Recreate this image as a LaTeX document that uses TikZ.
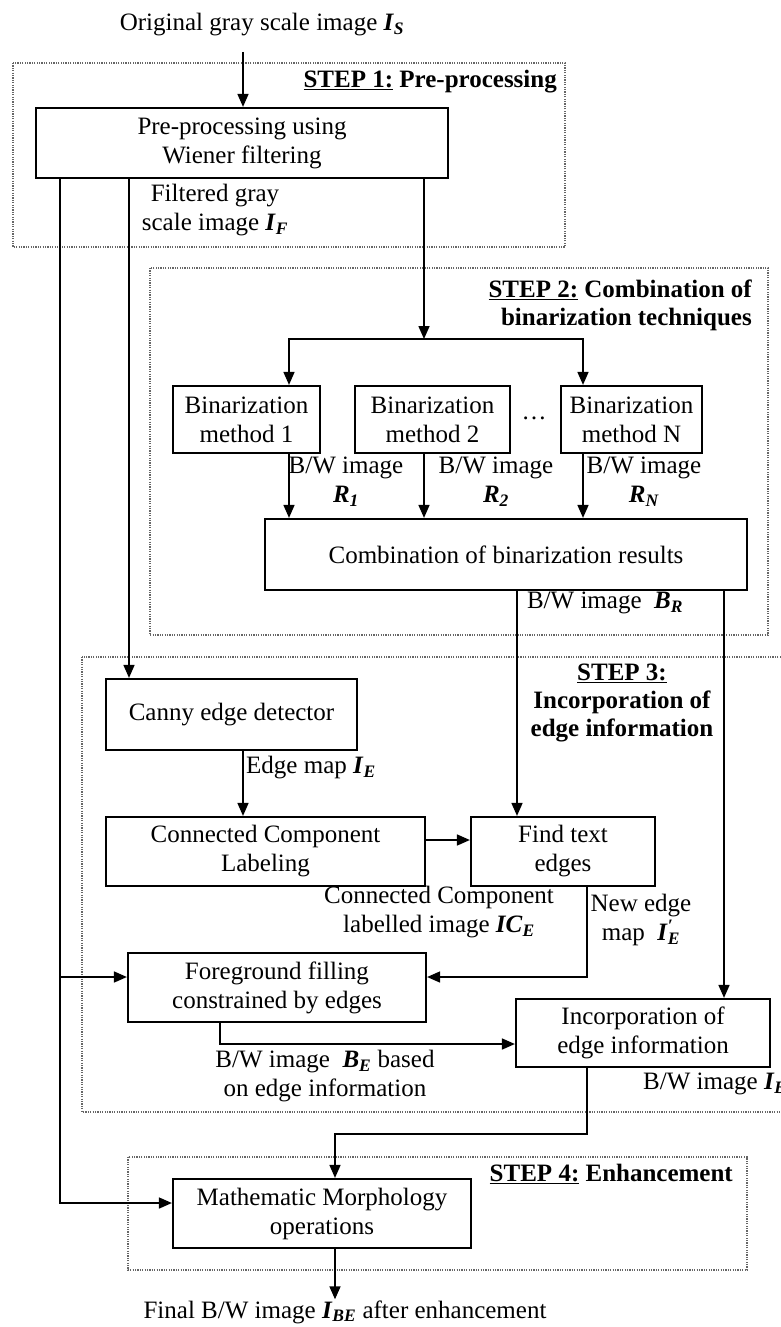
\documentclass[tikz,border=0pt]{standalone}
\usepackage{fontspec}
\setmainfont{Liberation Serif}
\usetikzlibrary{arrows.meta}
\newcommand{\vv}[2]{\textbf{\textit{#1}\textsubscript{\textit{#2}}}}
\begin{document}
\begin{tikzpicture}[x=1pt,y=-1pt,
  every node/.style={font=\fontsize{25}{29}\selectfont, inner sep=1pt},
  blk/.style={draw, line width=2.2pt, align=center, inner sep=0pt},
  arr/.style={line width=1.6pt, -{Triangle[length=13pt,width=11pt]}},
  ln/.style={line width=1.6pt},
  stepframe/.style={draw=black!60, line width=1.3pt, dash pattern=on 1.2pt off 1.2pt},
  steplbl/.style={font=\fontsize{25}{28}\selectfont\bfseries, align=right}]
\useasboundingbox (0,0) rectangle (781,1327);

% step frames
\draw[stepframe] (13,63) rectangle (565,247);
\draw[stepframe] (150,268) rectangle (768,635);
\draw[stepframe] (82,657) rectangle (820,1112);
\draw[stepframe] (128,1157) rectangle (747,1270);

% labels of steps
\node[steplbl, anchor=east] (s1) at (558,82) {\underline{STEP 1:} Pre-processing};
\node[steplbl, anchor=east] (s2) at (753,305) {\underline{STEP 2:} Combination of\\binarization techniques};
\node[steplbl, align=center] (s3) at (622,703) {\underline{STEP 3:}\\Incorporation of\\edge information};
\node[steplbl, anchor=east] (s4) at (734,1174) {\underline{STEP 4:} Enhancement};

% boxes
\node[blk, minimum width=412, minimum height=70] (pre) at (242,143) {Pre-processing using\\Wiener filtering};
\node[blk, minimum width=147, minimum height=67] (bin1) at (246.5,419.5) {Binarization\\method 1};
\node[blk, minimum width=155, minimum height=67] (bin2) at (432.5,419.5) {Binarization\\method 2};
\node[blk, minimum width=141, minimum height=67] (binN) at (631.5,419.5) {Binarization\\method N};
\node (dots) at (534,418) {\dots};
\node[blk, minimum width=482, minimum height=71] (comb) at (506,554.5) {Combination of binarization results};
\node[blk, minimum width=251, minimum height=71] (canny) at (231.5,714.5) {Canny edge detector};
\node[blk, minimum width=319, minimum height=69] (cc) at (265.5,851.5) {Connected Component\\Labeling};
\node[blk, minimum width=184, minimum height=69] (find) at (563,851.5) {Find text\\edges};
\node[blk, minimum width=298, minimum height=69] (fg) at (277,987.5) {Foreground filling\\constrained by edges};
\node[blk, minimum width=254, minimum height=68] (inc) at (643,1033) {Incorporation of\\edge information};
\node[blk, minimum width=298, minimum height=69] (morph) at (322,1213.5) {Mathematic Morphology\\operations};

% text labels
\node (title) at (262,25) {Original gray scale image \vv{I}{S}};
\node[align=center] (lf) at (215,210) {Filtered gray\\scale image \vv{I}{F}};
\node[align=center] (r1) at (346,482) {B/W image\\\vv{R}{1}};
\node[align=center] (r2) at (496,482) {B/W image\\\vv{R}{2}};
\node[align=center] (rn) at (644,482) {B/W image\\\vv{R}{N}};
\node (br) at (605,603) {B/W image\ \ \vv{B}{R}};
\node[anchor=west] (le) at (245,768) {Edge map \vv{I}{E}};
\node[align=center] (lic) at (439,912) {Connected Component\\labelled image \textbf{\textit{IC}\textsubscript{\textit{E}}}};
\node[align=center] (lne) at (641,920) {New edge\\map\ \ \textbf{\textit{I}}\rlap{\textsuperscript{\textbf{\textit{\char"2032}}}}\textsubscript{\textbf{\textit{E}}}};
\node[align=center] (lbe) at (325,1076) {B/W image\ \ \vv{B}{E} based\\on edge information};
\node[anchor=west] (lib) at (642,1084) {B/W image \vv{I}{B}};
\node (final) at (345,1312) {Final B/W image \vv{I}{BE} after enhancement};

% helper coordinates
\coordinate (tin) at (243,52);
\coordinate (xl) at (60,0);
\coordinate (fgin) at (60,977);
\coordinate (mrin) at (60,1203);
\coordinate (xc) at (129,0);
\coordinate (xs) at (424,0);
\coordinate (split) at (424,339);
\coordinate (sl) at (289,339);
\coordinate (sr) at (583,339);
\coordinate (xf) at (517,0);
\coordinate (xi) at (724,0);
\coordinate (xe) at (243,0);
\coordinate (yc) at (0,840);
\coordinate (xn) at (587,0);
\coordinate (xb) at (220,0);
\coordinate (yb) at (0,1044);
\coordinate (yk) at (0,1134);
\coordinate (xm) at (335,0);

% connectors
\draw[arr] (tin) -- (tin |- pre.north);
\draw[arr] (pre.south -| xl) -- (mrin) -- (mrin -| morph.west);
\draw[arr] (fgin) -- (fgin -| fg.west);
\draw[arr] (pre.south -| xc) -- (canny.north -| xc);
\draw[arr] (pre.south -| xs) -- (split);
\draw[line width=1.6pt, {Triangle[length=13pt,width=11pt]}-{Triangle[length=13pt,width=11pt]}] (sl |- bin1.north) -- (sl) -- (sr) -- (sr |- binN.north);
\draw[arr] (bin1.south -| sl) -- (comb.north -| sl);
\draw[arr] (bin2.south -| xs) -- (comb.north -| xs);
\draw[arr] (binN.south -| sr) -- (comb.north -| sr);
\draw[arr] (comb.south -| xf) -- (find.north -| xf);
\draw[arr] (comb.south -| xi) -- (inc.north -| xi);
\draw[arr] (canny.south -| xe) -- (cc.north -| xe);
\draw[arr] (cc.east |- yc) -- (find.west |- yc);
\draw[arr] (find.south -| xn) |- (fg.east |- fgin);
\draw[arr] (fg.south -| xb) |- (inc.west |- yb);
\draw[arr] (inc.south -| xn) -- (xn |- yk) -| (morph.north -| xm);
\draw[arr] (morph.south -| xm) -- (final.north -| xm);
\end{tikzpicture}
\end{document}
